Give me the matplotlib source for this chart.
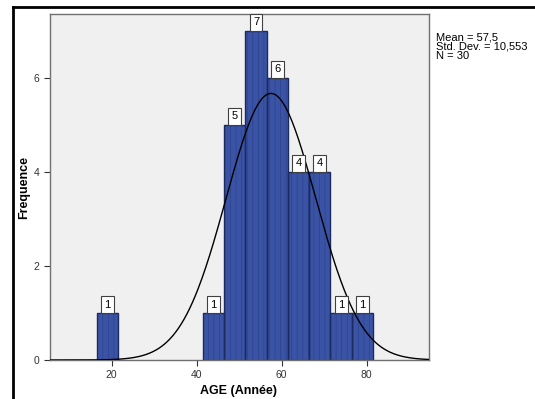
import numpy as np
import matplotlib
matplotlib.use('Agg')
import matplotlib.pyplot as plt
from matplotlib.lines import Line2D

plt.rcParams['font.family'] = ['Liberation Sans', 'DejaVu Sans']
plt.rcParams['hatch.linewidth'] = 0.5

# histogram data (bins of width 5)
bin_left = [16.5, 41.5, 46.5, 51.5, 56.5, 61.5, 66.5, 71.5, 76.5]
counts = [1, 1, 5, 7, 6, 4, 4, 1, 1]
bin_width = 5
mean = 57.5
std = 10.553
n = 30
x_ticks = [20, 40, 60, 80]
y_ticks = [0, 2, 4, 6]

fig = plt.figure(figsize=(5.35, 3.99), dpi=100)
ax = fig.add_axes([50/535, 39/399, 379/535, 346/399])
ax.set_facecolor('#f0f0f0')

# fill with faint vertical dotted texture, then dark outlines
ax.bar(bin_left, counts, width=bin_width, align='edge',
       color='#3a53a4', edgecolor='#2c4290', linewidth=0,
       hatch='|||', zorder=2)
ax.bar(bin_left, counts, width=bin_width, align='edge',
       fill=False, edgecolor='#1c2b5e', linewidth=1.0, zorder=2)

# normal curve
xs = np.linspace(5.5, 94.7, 400)
ys = n * bin_width / (std * np.sqrt(2 * np.pi)) * np.exp(-0.5 * ((xs - mean) / std) ** 2)
ax.plot(xs, ys, color='black', linewidth=1.0, zorder=3)

# count labels
for left, c in zip(bin_left, counts):
    ax.annotate(str(c), (left + bin_width / 2, c), xytext=(0, 2.5),
                textcoords='offset points', ha='center', va='bottom',
                fontsize=8, zorder=4,
                bbox=dict(boxstyle='square,pad=0.3', fc='white', ec='#404040', lw=0.8))

ax.set_xlim(5.5, 94.7)
ax.set_ylim(0, 7.36)
ax.set_xticks(x_ticks)
ax.set_yticks(y_ticks)
ax.tick_params(labelsize=7.5, colors='#333333', length=4, width=0.8)
for s in ax.spines.values():
    s.set_color('#707070')
    s.set_linewidth(1.0)

ax.set_xlabel('AGE (Année)', fontsize=9, fontweight='bold', va='center')
ax.set_ylabel('Frequence', fontsize=9, fontweight='bold', va='center')
ax.xaxis.set_label_coords((239 - 50) / 379, (360 - 391) / 346)
ax.yaxis.set_label_coords((24 - 50) / 379, 0.5)

fig.text(436/535, 1 - 33/399, 'Mean = 57,5\nStd. Dev. = 10,553\nN = 30',
         fontsize=8, va='top', ha='left', linespacing=0.85)

# outer frame of the output window
fig.add_artist(Line2D([13/535, 1], [1 - 6.5/399, 1 - 6.5/399], color='black', linewidth=2))
fig.add_artist(Line2D([13/535, 13/535], [0, 1 - 6.5/399], color='black', linewidth=2))

fig.savefig('out.png', dpi=100)
